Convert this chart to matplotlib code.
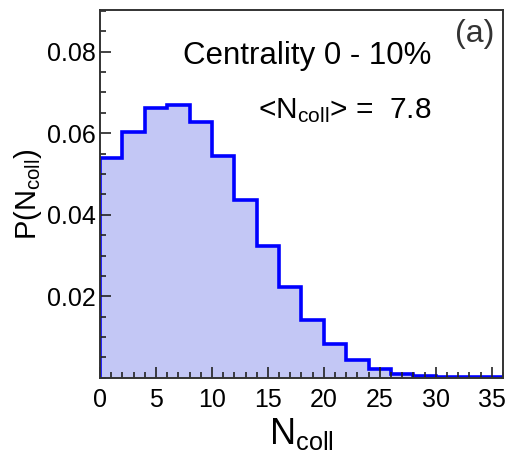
"""Ncoll distribution for centrality 0-10%."""

import matplotlib
matplotlib.use("Agg")
import matplotlib.pyplot as plt
import numpy as np
from matplotlib.ticker import MultipleLocator

plt.rcParams["font.family"] = ["Liberation Sans", "DejaVu Sans"]

# histogram of N_coll, bin width 2
bin_edges = np.arange(0, 37, 2)
probabilities = [0.0540, 0.0603, 0.0662, 0.0669, 0.0628, 0.0545, 0.0437, 0.0324,
                 0.0222, 0.0142, 0.0083, 0.0044, 0.0022, 0.0010, 0.0004, 0.0002,
                 0.0001, 0.0001]
y_ticks = [0.02, 0.04, 0.06, 0.08]
x_ticks = [0, 5, 10, 15, 20, 25, 30, 35]

fig = plt.figure(figsize=(5.08, 4.58), dpi=100)
ax = fig.add_axes([0.197, 0.175, 0.793, 0.803])

ax.stairs(probabilities, bin_edges, fill=True, color="#c3c7f5", linewidth=0)
ax.stairs(probabilities, bin_edges, baseline=0, color="#0000ff", linewidth=2.6)

ax.set_xlim(0, 36)
ax.set_ylim(0, 0.0902)
ax.set_xticks(x_ticks)
ax.set_yticks(y_ticks)
ax.set_yticklabels([f"{v:.2f}" for v in y_ticks])
ax.xaxis.set_minor_locator(MultipleLocator(1))
ax.yaxis.set_minor_locator(MultipleLocator(0.005))
ax.tick_params(which="both", direction="in", top=False, right=False,
               labelsize=18, color="#222222")
ax.tick_params(which="major", length=8, width=1.2)
ax.tick_params(which="minor", length=4.5, width=1.2)
ax.tick_params(axis="x", pad=7)
ax.tick_params(axis="y", pad=3)
for s in ax.spines.values():
    s.set_linewidth(1.4)
    s.set_color("#333333")

ax.set_xlabel(r"$\mathregular{N_{coll}}$", fontsize=26, labelpad=3)
ax.set_ylabel(r"$\mathregular{P(N_{coll})}$", fontsize=21, labelpad=2)

ax.text(0.206, 0.875, "Centrality 0 - 10%", transform=ax.transAxes,
        fontsize=22.5, ha="left", va="center")
ax.text(0.392, 0.728, r"<$\mathregular{N_{coll}}$> =  7.8", transform=ax.transAxes,
        fontsize=21.5, ha="left", va="center")
ax.text(0.98, 0.935, "(a)", transform=ax.transAxes,
        fontsize=23, ha="right", va="center", color="#333333")

fig.savefig("out.png", dpi=100)
